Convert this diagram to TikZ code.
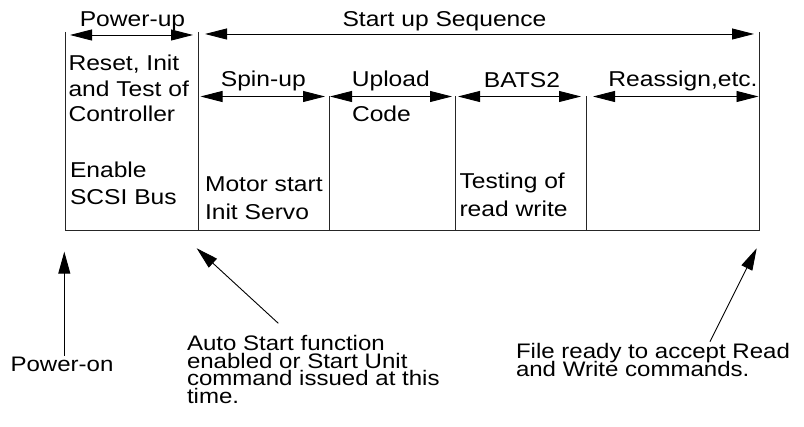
\documentclass[tikz,border=0pt]{standalone}
\usepackage{fontspec}
\setmainfont{Liberation Sans}[FakeStretch=1.145]
\usetikzlibrary{arrows.meta}
\newcommand\notight{\lineskiplimit-50pt\relax}
\begin{document}
\begin{tikzpicture}[x=1pt,y=-1pt,
  frame/.style={line width=1pt,draw=black!85},
  dimline/.style={line width=0.9pt,
    {Triangle[length=22pt,width=11pt]}-{Triangle[length=22pt,width=11pt]}},
  pointer/.style={line width=0.9pt,-{Triangle[length=22pt,width=12pt]}},
  lbl/.style={inner sep=0pt,outer sep=0pt,align=left,
    font=\fontsize{21.5}{26}\selectfont\notight},
  note/.style={lbl,font=\fontsize{21}{17.5}\selectfont\notight}
]
\useasboundingbox (0,0) rectangle (804,427);

% frame: phase boundaries and base line
\coordinate (t0) at (65,32);   \coordinate (b0) at (65,231);
\coordinate (t1) at (198,32);  \coordinate (b1) at (198,231);
\coordinate (t2) at (329,96);  \coordinate (b2) at (329,231);
\coordinate (t3) at (455,96);  \coordinate (b3) at (455,231);
\coordinate (t4) at (586,96);  \coordinate (b4) at (586,231);
\coordinate (t5) at (759,32);  \coordinate (b5) at (759,231);
\draw[frame] (t0) -- (b0) (t1) -- (b1) (t2) -- (b2) (t3) -- (b3)
             (t4) -- (b4) (t5) -- (b5);
\draw[frame] (b0) -- (b5);

% top row spans
\coordinate (pu1) at (70,35);    \coordinate (pu2) at (193,35);
\coordinate (su1) at (205,34);   \coordinate (su2) at (754,34);
\draw[dimline] (pu1) -- (pu2);
\draw[dimline] (su1) -- (su2);
\node[lbl,anchor=base] (powerup) at (132.5,27) {Power-up};
\node[lbl,anchor=base] (startup) at (444.5,27) {Start up Sequence};

% second row spans
\coordinate (sp1) at (200.5,96.5); \coordinate (sp2) at (325,96.5);
\coordinate (ul1) at (330,96.5);   \coordinate (ul2) at (452,96.5);
\coordinate (bt1) at (458,96.5);   \coordinate (bt2) at (581,96.5);
\coordinate (ra1) at (593,96.5);   \coordinate (ra2) at (758.5,96.5);
\draw[dimline] (sp1) -- (sp2);
\draw[dimline] (ul1) -- (ul2);
\draw[dimline] (bt1) -- (bt2);
\draw[dimline] (ra1) -- (ra2);
\node[lbl,anchor=base] (spinup) at (263.3,86.7) {Spin-up};
\node[lbl,anchor=base] (upload) at (390.8,87) {Upload};
\node[lbl,anchor=base] (bats) at (522,87.3) {BATS2};
\node[lbl,anchor=base] (reassign) at (683,87) {Reassign,etc.};

% phase descriptions (multi-line nodes sit on the baseline of their last line)
\node[lbl,anchor=base west,font=\fontsize{21.5}{25.5}\selectfont] (reset)
  at (68.5,121.7) {Reset, Init\\and Test of\\Controller};
\node[lbl,anchor=base west] (code) at (352,122) {Code};
\node[lbl,anchor=base west,font=\fontsize{21.5}{27.7}\selectfont] (enable)
  at (70,205) {Enable\\SCSI Bus};
\node[lbl,anchor=base west,font=\fontsize{21.5}{28.3}\selectfont] (motor)
  at (205,220) {Motor start\\Init Servo};
\node[lbl,anchor=base west,font=\fontsize{21.5}{28.5}\selectfont] (testing)
  at (459.5,216.8) {Testing of\\read write};

% events below the time line
\coordinate (po1) at (64.3,356);   \coordinate (po2) at (64.3,251.7);
\coordinate (as1) at (278.3,323.3); \coordinate (as2) at (196.7,248.3);
\coordinate (fr1) at (710,341.7);  \coordinate (fr2) at (756.7,248.3);
\draw[pointer] (po1) -- (po2);
\draw[pointer] (as1) -- (as2);
\draw[pointer] (fr1) -- (fr2);
\node[note,anchor=base west] (poweron) at (10.5,371.7) {Power-on};
\node[note,anchor=base west] (autostart) at (187,403.2)
  {Auto Start function\\enabled or Start Unit\\command issued at this\\time.};
\node[note,anchor=base west,font=\fontsize{21}{18.3}\selectfont\notight]
  (fileready) at (516,376.6) {File ready to accept Read\\and Write commands.};
\end{tikzpicture}
\end{document}
